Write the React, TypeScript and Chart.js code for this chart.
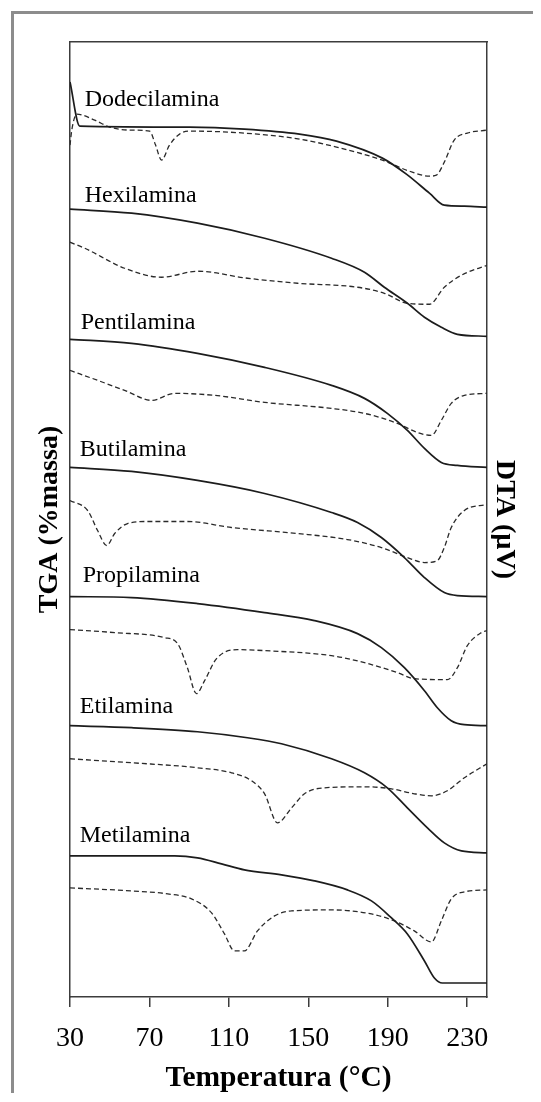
import React, { useEffect, useRef } from 'react';
import { Chart, registerables } from 'chart.js';

Chart.register(...registerables);

const FONT = '"Liberation Serif", "Times New Roman", serif';

// x-axis ticks (°C)
const TEMP_TICKS = [30, 70, 110, 150, 190, 230];

// sample names and where their captions sit (temperature, offset units)
const SAMPLES = ['Dodecilamina', 'Hexilamina', 'Pentilamina', 'Butilamina', 'Propilamina', 'Etilamina', 'Metilamina'];
const LABEL_T = [37.4, 37.4, 35.4, 34.9, 36.4, 34.9, 34.9];
const LABEL_Y = [89.6, 80.0, 67.4, 54.7, 42.1, 29.0, 16.1];

// ---- Dodecilamina ----
const dodecTgaT = [30, 34.9, 90.2, 117.8, 145.6, 164.2, 187.3, 199.4, 211.0, 218.5, 228.6, 240];
const dodecTgaV = [91.4, 87.0, 86.9, 86.7, 86.2, 85.5, 83.8, 82.2, 80.3, 79.1, 79.0, 78.9];
const dodecDtaT = [30, 30.9, 33.4, 42.4, 50.0, 60.0, 70.1, 73.1, 76.1, 80.1, 85.2, 90.2, 117.8, 145.6, 164.2, 187.3, 200.9, 211.0, 214.5, 218.5, 223.5, 230.1, 240];
const dodecDtaV = [85.1, 86.6, 88.2, 87.6, 86.9, 86.6, 86.5, 85.1, 83.6, 85.1, 86.2, 86.5, 86.3, 85.7, 84.9, 83.6, 82.5, 82.0, 82.1, 83.4, 85.6, 86.3, 86.6];

// ---- Hexilamina ----
const hexTgaT = [30, 61.0, 94.2, 128.0, 161.7, 178.3, 188.3, 199.9, 208.5, 217.0, 225.1, 240];
const hexTgaV = [78.7, 78.3, 77.3, 75.8, 73.8, 72.4, 70.9, 69.3, 67.9, 66.9, 66.2, 66.0];
const hexDtaT = [30, 37.4, 57.5, 76.1, 94.2, 119.4, 144.6, 174.8, 188.3, 199.9, 211.0, 218.5, 227.1, 240];
const hexDtaV = [75.4, 74.8, 72.8, 71.9, 72.5, 71.8, 71.3, 70.9, 70.3, 69.3, 69.2, 70.9, 72.1, 73.1];

// ---- Pentilamina ----
const pentTgaT = [30, 61.0, 94.2, 128.0, 161.7, 178.3, 189.8, 199.9, 208.5, 217.0, 225.1, 240];
const pentTgaV = [65.7, 65.3, 64.3, 62.9, 61.1, 59.8, 58.3, 56.6, 54.8, 53.4, 53.1, 52.9];
const pentDtaT = [30, 43.9, 57.5, 71.1, 82.7, 102.8, 128.0, 161.7, 178.3, 194.9, 204.9, 212.0, 217.0, 222.0, 228.6, 240];
const pentDtaV = [62.6, 61.6, 60.6, 59.6, 60.3, 60.1, 59.4, 58.8, 58.3, 57.3, 56.4, 56.1, 57.6, 59.3, 60.1, 60.3];

// ---- Butilamina ----
const butTgaT = [30, 61.0, 94.2, 128.0, 161.7, 174.8, 186.8, 198.4, 208.5, 218.5, 225.1, 240];
const butTgaV = [52.9, 52.5, 51.6, 50.3, 48.4, 47.4, 45.9, 43.9, 41.9, 40.4, 40.1, 40.0];
const butDtaT = [30, 38.9, 43.9, 48.5, 52.5, 59.0, 69.1, 89.1, 111.3, 144.6, 169.7, 186.8, 199.9, 208.5, 215.0, 218.5, 222.0, 228.6, 240];
const butDtaV = [49.6, 48.6, 46.6, 45.1, 46.3, 47.3, 47.5, 47.5, 46.9, 46.3, 45.7, 44.9, 43.9, 43.4, 43.6, 44.9, 46.9, 48.6, 49.2];

// ---- Propilamina ----
const propTgaT = [30, 61.0, 94.2, 128.0, 153.1, 174.8, 186.8, 198.4, 208.5, 215.0, 222.0, 228.6, 240];
const propTgaV = [40.0, 39.9, 39.3, 38.4, 37.6, 36.3, 34.9, 32.9, 30.6, 28.9, 27.6, 27.2, 27.1];
const propDtaT = [30, 52.5, 77.6, 84.2, 89.1, 93.7, 97.8, 103.8, 114.3, 128.0, 161.7, 178.3, 194.9, 203.4, 220.0, 225.1, 230.1, 237.2, 240];
const propDtaV = [36.7, 36.4, 35.9, 35.3, 32.9, 30.3, 31.6, 33.8, 34.7, 34.6, 34.1, 33.4, 32.4, 31.8, 31.7, 32.9, 35.1, 36.4, 36.6];

// ---- Etilamina ----
const etTgaT = [30, 61.0, 94.2, 119.4, 136.5, 161.7, 178.3, 189.8, 199.9, 210.0, 218.5, 227.1, 240];
const etTgaV = [27.1, 26.9, 26.5, 25.9, 25.3, 23.8, 22.4, 20.9, 18.9, 16.9, 15.4, 14.6, 14.4];
const etDtaT = [30, 61.0, 94.2, 111.3, 121.4, 128.0, 134.5, 141.6, 148.1, 158.2, 178.3, 191.9, 203.4, 212.0, 220.0, 228.6, 240];
const etDtaV = [23.8, 23.4, 22.9, 22.4, 21.6, 20.3, 17.4, 18.9, 20.3, 20.9, 21.0, 20.8, 20.3, 20.1, 20.6, 21.9, 23.3];

// ---- Metilamina ----
const metTgaT = [30, 82.7, 94.2, 106.3, 117.8, 136.5, 153.1, 169.7, 181.8, 191.9, 199.9, 208.5, 213.5, 217.5, 240];
const metTgaV = [14.1, 14.1, 13.9, 13.3, 12.7, 12.2, 11.6, 10.7, 9.6, 7.9, 6.3, 3.6, 1.9, 1.4, 1.4];
const metDtaT = [30, 61.0, 79.2, 91.2, 101.3, 107.8, 112.8, 117.8, 124.4, 133.0, 141.6, 161.7, 181.8, 193.4, 203.4, 212.0, 217.0, 222.0, 228.6, 240];
const metDtaV = [10.9, 10.6, 10.3, 9.8, 8.4, 6.3, 4.6, 4.6, 6.6, 8.1, 8.6, 8.7, 8.3, 7.6, 6.6, 5.5, 7.6, 9.8, 10.5, 10.7];

const TGA_SERIES = [
  [dodecTgaT, dodecTgaV], [hexTgaT, hexTgaV], [pentTgaT, pentTgaV], [butTgaT, butTgaV],
  [propTgaT, propTgaV], [etTgaT, etTgaV], [metTgaT, metTgaV],
];
const DTA_SERIES = [
  [dodecDtaT, dodecDtaV], [hexDtaT, hexDtaV], [pentDtaT, pentDtaV], [butDtaT, butDtaV],
  [propDtaT, propDtaV], [etDtaT, etDtaV], [metDtaT, metDtaV],
];

const Y_MIN = 0;
const Y_MAX = 95.4;
const X_MIN = 30;
const X_MAX = 240;

const AXIS_COLOR = '#3c3c3c';

const toPoints = (t: number[], v: number[]) => t.map((x, i) => ({ x, y: v[i] }));

const framePlugin = {
  id: 'outerFrame',
  beforeDraw(chart: any) {
    const { ctx, width, height } = chart;
    ctx.save();
    ctx.fillStyle = '#ffffff';
    ctx.fillRect(0, 0, width, height);
    ctx.strokeStyle = '#8c8c8c';
    ctx.lineWidth = 3;
    ctx.beginPath();
    ctx.moveTo(4.5, height);
    ctx.lineTo(4.5, 4.5);
    ctx.lineTo(width, 4.5);
    ctx.stroke();
    ctx.restore();
  },
};

const labelPlugin = {
  id: 'sampleLabels',
  afterDatasetsDraw(chart: any) {
    const { ctx, scales } = chart;
    const xs = scales.x;
    const ys = scales.y;
    ctx.save();
    ctx.font = `24px ${FONT}`;
    ctx.fillStyle = '#000';
    ctx.textAlign = 'left';
    ctx.textBaseline = 'middle';
    SAMPLES.forEach((name, i) => {
      ctx.fillText(name, xs.getPixelForValue(LABEL_T[i]), ys.getPixelForValue(LABEL_Y[i]));
    });
    ctx.restore();
  },
};

export default function App() {
  const canvasRef = useRef<HTMLCanvasElement | null>(null);

  useEffect(() => {
    if (!canvasRef.current) return;
    Chart.defaults.font.family = FONT;

    const datasets: any[] = [];
    TGA_SERIES.forEach(([t, v], i) => {
      datasets.push({
        label: `${SAMPLES[i]} TGA`,
        data: toPoints(t, v),
        borderColor: '#1c1c1c',
        borderWidth: 1.7,
        pointRadius: 0,
        fill: false,
        cubicInterpolationMode: 'monotone',
      });
    });
    DTA_SERIES.forEach(([t, v], i) => {
      datasets.push({
        label: `${SAMPLES[i]} DTA`,
        data: toPoints(t, v),
        borderColor: '#2a2a2a',
        borderWidth: 1.3,
        borderDash: [5, 3],
        pointRadius: 0,
        fill: false,
        cubicInterpolationMode: 'monotone',
      });
    });

    const border = { display: true, color: AXIS_COLOR, width: 1.5 };

    const chart = new Chart(canvasRef.current, {
      type: 'line',
      data: { datasets },
      plugins: [framePlugin, labelPlugin],
      options: {
        animation: false,
        responsive: false,
        devicePixelRatio: 1,
        layout: { padding: 0 },
        plugins: {
          legend: { display: false },
          tooltip: { enabled: false },
          title: { display: false },
        },
        scales: {
          x: {
            type: 'linear',
            position: 'bottom',
            min: X_MIN,
            max: X_MAX,
            afterBuildTicks: (s: any) => {
              s.ticks = TEMP_TICKS.map((value) => ({ value }));
            },
            afterFit: (s: any) => {
              s.height = 96;
            },
            ticks: {
              font: { size: 28, family: FONT },
              color: '#000',
              padding: 15,
              maxRotation: 0,
              autoSkip: false,
            },
            grid: {
              display: true,
              drawOnChartArea: false,
              drawTicks: true,
              tickLength: 10,
              color: AXIS_COLOR,
              lineWidth: 1.5,
            },
            border,
            title: {
              display: true,
              text: 'Temperatura (°C)',
              color: '#000',
              font: { size: 29.5, weight: 'bold', family: FONT, lineHeight: 1 },
              padding: { top: 0, bottom: 0 },
            },
          },
          xTop: {
            type: 'linear',
            position: 'top',
            min: X_MIN,
            max: X_MAX,
            ticks: { display: false },
            grid: { display: false },
            border,
            afterFit: (s: any) => {
              s.height = 34;
            },
          },
          y: {
            type: 'linear',
            position: 'left',
            min: Y_MIN,
            max: Y_MAX,
            ticks: { display: false },
            grid: { display: false },
            border,
            title: {
              display: true,
              text: 'TGA (%massa)',
              color: '#000',
              font: { size: 28, weight: 'bold', family: FONT, lineHeight: 1 },
              padding: { top: 28, bottom: 0 },
            },
            afterFit: (s: any) => {
              s.width = 62;
            },
          },
          y2: {
            type: 'linear',
            position: 'right',
            min: Y_MIN,
            max: Y_MAX,
            ticks: { display: false },
            grid: { display: false },
            border,
            title: {
              display: true,
              text: 'DTA (µV)',
              color: '#000',
              font: { size: 28, weight: 'bold', family: FONT, lineHeight: 1 },
              padding: { top: 15, bottom: 0 },
            },
            afterFit: (s: any) => {
              s.width = 46;
            },
          },
        },
      },
    } as any);

    return () => {
      chart.destroy();
    };
  }, []);

  return (
    <div style={{ width: 525, height: 1085 }}>
      <canvas ref={canvasRef} width={525} height={1085} style={{ display: 'block', width: 525, height: 1085 }} />
    </div>
  );
}
